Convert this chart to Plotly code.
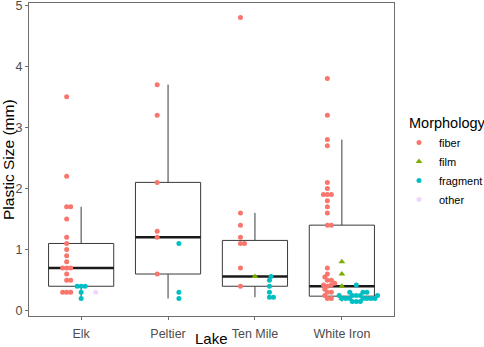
import numpy as np
import plotly.graph_objects as go

lakes = ["Elk", "Peltier", "Ten Mile", "White Iron"]
morphs = ["fiber", "film", "fragment", "other"]
y_ticks = [0, 1, 2, 3, 4, 5]

# plastic sizes (mm) by lake and morphology
elk_fiber = [3.5, 2.2, 1.7, 1.7, 1.5, 1.2, 1.1, 1.0, 0.9, 0.8, 0.7, 0.7, 0.7, 0.6, 0.5, 0.5, 0.3, 0.3, 0.3]
elk_film = []
elk_fragment = [0.4, 0.4, 0.4, 0.3, 0.2]
elk_other = [0.3]

peltier_fiber = [3.7, 3.2, 2.1, 1.3, 1.2, 0.6]
peltier_film = []
peltier_fragment = [1.1, 0.3, 0.2]
peltier_other = []

tenmile_fiber = [4.8, 1.6, 1.4, 1.2, 1.1, 1.1, 0.7, 0.4]
tenmile_film = [0.56]
tenmile_fragment = [0.56, 0.5, 0.4, 0.3, 0.22, 0.22]
tenmile_other = []

whiteiron_fiber = [3.8, 3.2, 2.8, 2.7, 2.1, 2.0, 1.9, 1.9, 1.9, 1.8, 1.7, 1.6, 1.4, 1.4,
                   0.7, 0.6, 0.55, 0.5, 0.5, 0.45, 0.42, 0.42, 0.4, 0.35, 0.3, 0.3, 0.25, 0.2, 0.2]
whiteiron_film = [0.8, 0.6, 0.4, 0.2]
whiteiron_fragment = [0.42, 0.3, 0.3, 0.3, 0.25, 0.25, 0.25, 0.25, 0.25, 0.2, 0.2, 0.2, 0.2,
                      0.2, 0.2, 0.2, 0.15, 0.15, 0.15]
whiteiron_other = []

data = {
    "Elk": [elk_fiber, elk_film, elk_fragment, elk_other],
    "Peltier": [peltier_fiber, peltier_film, peltier_fragment, peltier_other],
    "Ten Mile": [tenmile_fiber, tenmile_film, tenmile_fragment, tenmile_other],
    "White Iron": [whiteiron_fiber, whiteiron_film, whiteiron_fragment, whiteiron_other],
}

colors = {"fiber": "#F8766D", "film": "#7CAE00", "fragment": "#00BFC4", "other": "rgba(199,124,255,0.3)"}
symbols = {"fiber": "circle", "film": "triangle-up", "fragment": "circle", "other": "circle"}
sizes = {"fiber": 5, "film": 6, "fragment": 5, "other": 5}

# plot geometry (pixels per data unit) used for the swarm layout
W, H = 484, 347
ML, MR, MT, MB = 29, 90, 3, 31
PW, PH = W - ML - MR, H - MT - MB
x_range = [-0.6, 3.6]
y_range = [-0.087, 5.036]
px_x = PW / (x_range[1] - x_range[0])
px_y = PH / (y_range[1] - y_range[0])
D = 4.0


def swarm(vals):
    vals = np.asarray(vals, float)
    order = np.argsort(vals, kind="stable")
    placed = []
    out = np.zeros(len(vals))
    for i in order:
        y = vals[i] * px_y
        cands = [0.0]
        for (qx, qy) in placed:
            dy = abs(qy - y)
            if dy < D:
                dx = np.sqrt(D * D - dy * dy)
                cands += [qx + dx, qx - dx]
        valid = [c for c in cands
                 if all((c - qx) ** 2 + (y - qy) ** 2 >= D * D - 1e-6 for qx, qy in placed)]
        best = min(valid, key=lambda c: (abs(c), -c))
        out[i] = best
        placed.append((best, y))
    return out / px_x


fig = go.Figure()

# boxes (ggplot-style: type-7 quartiles, whiskers to data within 1.5 IQR)
for i, lake in enumerate(lakes):
    allv = np.concatenate([np.asarray(v, float) for v in data[lake] if len(v)])
    q1, med, q3 = np.percentile(allv, [25, 50, 75])
    iqr = q3 - q1
    lo = allv[allv >= q1 - 1.5 * iqr].min()
    hi = allv[allv <= q3 + 1.5 * iqr].max()
    fig.add_trace(go.Box(x=[i], q1=[q1], median=[med], q3=[q3], lowerfence=[lo], upperfence=[hi],
                         width=0.75, whiskerwidth=0, boxpoints=False,
                         fillcolor="rgba(255,255,255,0)", line=dict(color="#3a3a3a", width=1),
                         showlegend=False, hoverinfo="skip"))
    fig.add_trace(go.Scatter(x=[i - 0.375, i + 0.375], y=[med, med], mode="lines",
                             line=dict(color="#1a1a1a", width=2.5), showlegend=False, hoverinfo="skip"))

# points, dodged by morphology then swarmed
for m_idx, m in enumerate(morphs):
    xs, ys = [], []
    for i, lake in enumerate(lakes):
        present = [k for k in range(len(morphs)) if len(data[lake][k])]
        vals = data[lake][m_idx]
        if not len(vals):
            continue
        k = len(present)
        j = present.index(m_idx)
        off = -0.25 + (j + 0.5) * 0.5 / k
        sw = swarm(vals)
        xs += list(i + off + sw)
        ys += list(vals)
    fig.add_trace(go.Scatter(x=xs, y=ys, mode="markers", name=m,
                             marker=dict(color=colors[m], symbol=symbols[m], size=sizes[m],
                                         line=dict(width=0))))

FONT = "Liberation Sans, Arial, sans-serif"
axis_font = dict(family=FONT, size=12.5, color="#4D4D4D")
fig.update_layout(
    width=W, height=H,
    margin=dict(l=ML, r=MR, t=MT, b=MB, autoexpand=False),
    plot_bgcolor="white", paper_bgcolor="white",
    font=dict(family=FONT, color="black"),
    xaxis=dict(range=x_range, tickvals=list(range(len(lakes))), ticktext=lakes, automargin=False,
               showgrid=False, zeroline=False, showline=True, mirror=True,
               linecolor="#6e6e6e", linewidth=1, ticks="outside", ticklen=3, tickcolor="#6e6e6e",
               tickfont=axis_font, ticklabelstandoff=3, ticklabeloverflow="allow"),
    yaxis=dict(range=y_range, tickvals=y_ticks, showgrid=False, zeroline=False, showline=True,
               mirror=True, linecolor="#6e6e6e", linewidth=1, ticks="outside", ticklen=3,
               tickcolor="#6e6e6e", tickfont=axis_font, automargin=False, ticklabeloverflow="allow"),
    legend=dict(x=(399 - ML) / PW, xanchor="left", y=(316 - 128) / PH, yanchor="top",
                font=dict(family=FONT, size=11, color="black"), itemwidth=30, tracegroupgap=0,
                bgcolor="rgba(0,0,0,0)"),
    annotations=[
        dict(text="Lake", xref="paper", yref="paper", x=0.5, y=(316 - 338.5) / PH,
             xanchor="center", yanchor="middle", showarrow=False,
             font=dict(family=FONT, size=15, color="black")),
        dict(text="Plastic Size (mm)", xref="paper", yref="paper", x=(8.5 - ML) / PW, y=0.5,
             xanchor="center", yanchor="middle", textangle=-90, showarrow=False,
             font=dict(family=FONT, size=15.5, color="black")),
        dict(text="Morphology", xref="paper", yref="paper", x=(407 - ML) / PW, y=(316 - 123) / PH,
             xanchor="left", yanchor="middle", showarrow=False,
             font=dict(family=FONT, size=14.5, color="black")),
    ],
)

fig.write_html("out.html", config={"displayModeBar": False, "responsive": False},
               post_script="document.body.style.margin='0';document.body.style.overflow='hidden';")
